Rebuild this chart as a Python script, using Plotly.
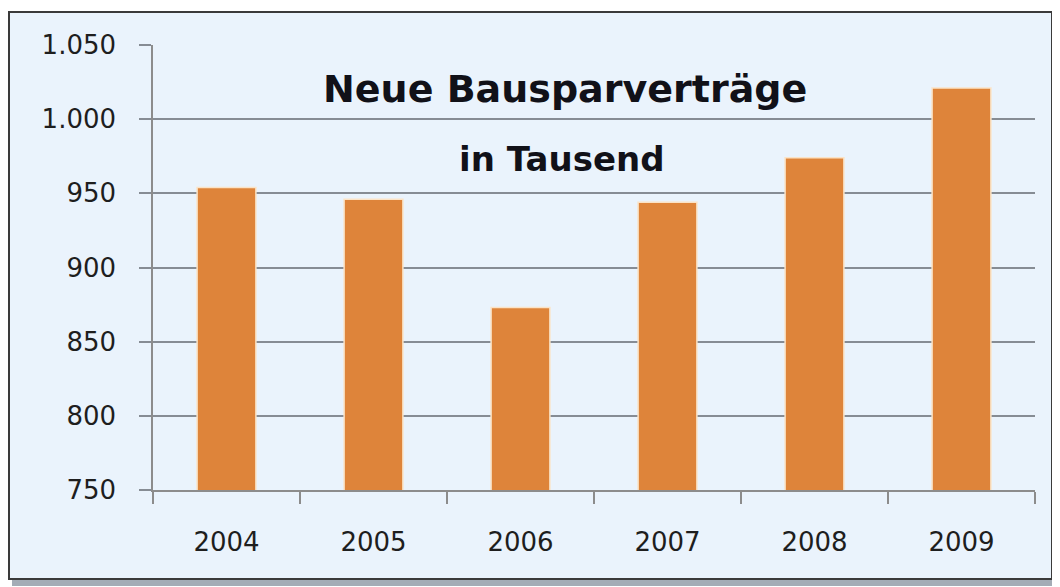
import plotly.graph_objects as go

years = ["2004", "2005", "2006", "2007", "2008", "2009"]
values = [954, 946, 873, 944, 974, 1021]
y_tickvals = [750, 800, 850, 900, 950, 1000, 1050]
y_ticktext = ["750", "800", "850", "900", "950", "1.000", "1.050"]
title_line1 = "Neue Bausparverträge"
title_line2 = "in Tausend"

# the page body has an 8px margin: the figure starts at (8, 8) of the window
OFF = 8
W, H = 1060 - OFF, 587 - OFF
L, R, T, B = 153 - OFF, 25, 45 - OFF, 97
pw, ph = W - L - R, H - T - B

def px(x):
    return (x - OFF - L) / pw

def py(y):
    return (H - B - (y - OFF)) / ph

fig = go.Figure()
fig.add_trace(go.Bar(
    x=years, y=values, width=0.4,
    marker=dict(color="#DE843A", line=dict(color="#FBE3C6", width=1.5)),
    hoverinfo="x+y",
))

shapes = [
    # shadow
    dict(type="rect", xref="paper", yref="paper", layer="below",
         x0=px(12), x1=px(1059), y0=py(16), y1=py(586),
         fillcolor="#a4acb6", line=dict(width=0)),
    # outer frame
    dict(type="rect", xref="paper", yref="paper", layer="below",
         x0=px(9), x1=px(1052), y0=py(12), y1=py(579),
         fillcolor="#EAF3FC", line=dict(color="#3a3a3a", width=2)),
]

fig.update_layout(
    width=W, height=H,
    margin=dict(l=L, r=R, t=T, b=B),
    paper_bgcolor="white",
    plot_bgcolor="#DCE5F1",
    showlegend=False,
    shapes=shapes,
    font=dict(family="DejaVu Sans", color="#222222"),
    annotations=[
        dict(text="<b>" + title_line1 + "</b>", xref="paper", yref="paper",
             x=px(565), y=py(89), showarrow=False, xanchor="center", yanchor="middle",
             font=dict(family="DejaVu Sans", size=38, color="#111118")),
        dict(text="<b>" + title_line2 + "</b>", xref="paper", yref="paper",
             x=px(562), y=py(159), showarrow=False, xanchor="center", yanchor="middle",
             font=dict(family="DejaVu Sans", size=34, color="#111118")),
    ],
)

fig.update_xaxes(
    type="category",
    showgrid=False,
    showline=True, linecolor="#8c8c8c", linewidth=1.5,
    ticks="outside", tickson="boundaries", ticklen=12, tickwidth=1.5, tickcolor="#8c8c8c",
    tickfont=dict(family="DejaVu Sans", size=26, color="#1e1e1e"),
    ticklabelstandoff=28,
    fixedrange=True,
)
fig.update_yaxes(
    range=[750, 1050],
    tickvals=y_tickvals, ticktext=y_ticktext,
    showgrid=True, gridcolor="#868c94", gridwidth=1.5,
    showline=True, linecolor="#8c8c8c", linewidth=1.5,
    ticks="outside", ticklen=12, tickwidth=1.5, tickcolor="#868c94",
    tickfont=dict(family="DejaVu Sans", size=26, color="#1e1e1e"),
    ticklabelstandoff=18,
    zeroline=False,
    fixedrange=True,
)

fig.write_html("out.html")
